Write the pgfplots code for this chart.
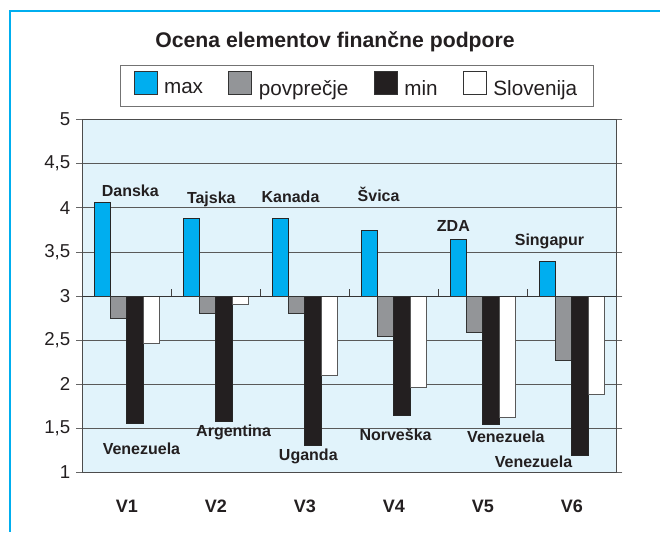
\documentclass[border=0pt]{standalone}
\usepackage{fontspec}
\setmainfont{Liberation Sans}
\usepackage{pgfplots}
\pgfplotsset{compat=1.18}
\definecolor{cmax}{HTML}{00AEEF}
\definecolor{cavg}{HTML}{939598}
\definecolor{cmin}{HTML}{231F20}
\definecolor{cbg}{HTML}{E1F3FB}
\definecolor{ctxt}{HTML}{231F20}
\pgfplotsset{
  sqlegend/.style={legend image code/.code={%
    \draw[##1,draw=black!80,line width=0.6pt] (0pt,-4pt) rectangle (17.25pt,13.2pt);}},
}
\tikzset{ann/.style={font=\bfseries\fontsize{12}{14}\selectfont, text=ctxt}}
\begin{document}
\begin{tikzpicture}
\useasboundingbox (0,0) rectangle (495pt,399pt);
\node[font=\bfseries\fontsize{15.9}{18}\selectfont, text=ctxt] at (251.25pt,368pt) {Ocena elementov finančne podpore};
\begin{axis}[
  at={(61.7pt,44.6pt)}, anchor=south west,
  scale only axis, width=400.5pt, height=264.75pt,
  xmin=0.5, xmax=6.5, ymin=1, ymax=5,
  y coord trafo/.code={\pgfmathparse{#1-3}},
  y coord inv trafo/.code={\pgfmathparse{#1+3}},
  ybar=0pt, bar width=12.2pt,
  axis background/.style={fill=cbg},
  axis line style={draw=black!70, line width=0.6pt},
  xtick={1,2,3,4,5,6},
  xticklabels={V1,V2,V3,V4,V5,V6},
  xtick style={draw=none},
  xticklabel style={font=\bfseries\fontsize{13.5}{16}\selectfont, text=ctxt,
    text height=10pt, text depth=0pt, yshift=-12pt},
  ytick={1,1.5,2,2.5,3,3.5,4,4.5,5},
  tick align=outside, major tick length=4.5pt,
  ytick style={draw=black!60, line width=0.6pt},
  yticklabel style={font=\fontsize{14}{16}\selectfont, text=ctxt, xshift=-1pt,
    /pgf/number format/use comma, /pgf/number format/assume math mode=true},
  ymajorgrids, grid style={draw=black!65, line width=0.6pt},
  legend columns=4,
  legend style={at={(0.514,1.095)}, anchor=center, draw=black!55, fill=white,
    font=\fontsize{15.5}{18}\selectfont, text=ctxt, inner xsep=10pt, inner ysep=4.5pt,
    /tikz/every odd column/.append style={column sep=3pt},
    /tikz/every even column/.append style={column sep=17pt}},
]
\addplot[sqlegend, fill=cmax, draw=black!85, line width=0.6pt] coordinates
  {(1,4.06) (2,3.88) (3,3.88) (4,3.74) (5,3.64) (6,3.39)};
\addlegendentry{max}
\addplot[sqlegend, fill=cavg, draw=black!80, line width=0.6pt] coordinates
  {(1,2.75) (2,2.80) (3,2.80) (4,2.54) (5,2.59) (6,2.27)};
\addlegendentry{povprečje}
\addplot[sqlegend, fill=cmin, draw=black!85, line width=0.6pt] coordinates
  {(1,1.56) (2,1.58) (3,1.31) (4,1.65) (5,1.54) (6,1.19)};
\addlegendentry{min}
\addplot[sqlegend, fill=white, draw=black!65, line width=0.6pt] coordinates
  {(1,2.46) (2,2.90) (3,2.10) (4,1.97) (5,1.63) (6,1.88)};
\addlegendentry{Slovenija}
\draw[black!80, line width=0.7pt] (axis cs:0.5,3) -- (axis cs:6.5,3) -- ([xshift=2pt]axis cs:6.5,3);
\pgfplotsinvokeforeach{1.5,2.5,3.5,4.5,5.5,6.5}{
  \draw[black!75, line width=0.6pt] (axis cs:#1,3) -- ([yshift=5pt]axis cs:#1,3);
}
\node[ann] at (axis cs:1.04,4.19) {Danska};
\node[ann] at (axis cs:1.95,4.09) {Tajska};
\node[ann] at (axis cs:2.84,4.12) {Kanada};
\node[ann] at (axis cs:3.83,4.15) {Švica};
\node[ann] at (axis cs:4.67,3.79) {ZDA};
\node[ann] at (axis cs:5.75,3.62) {Singapur};
\node[ann] at (axis cs:1.165,1.27) {Venezuela};
\node[ann] at (axis cs:2.20,1.45) {Argentina};
\node[ann] at (axis cs:3.04,1.18) {Uganda};
\node[ann] at (axis cs:4.02,1.43) {Norveška};
\node[ann] at (axis cs:5.26,1.40) {Venezuela};
\node[ann] at (axis cs:5.57,1.12) {Venezuela};
\end{axis}
\fill[cmax] (6.75pt,0pt) rectangle (8.25pt,391.75pt);
\fill[cmax] (6.75pt,390.25pt) rectangle (495pt,391.75pt);
\end{tikzpicture}
\end{document}
